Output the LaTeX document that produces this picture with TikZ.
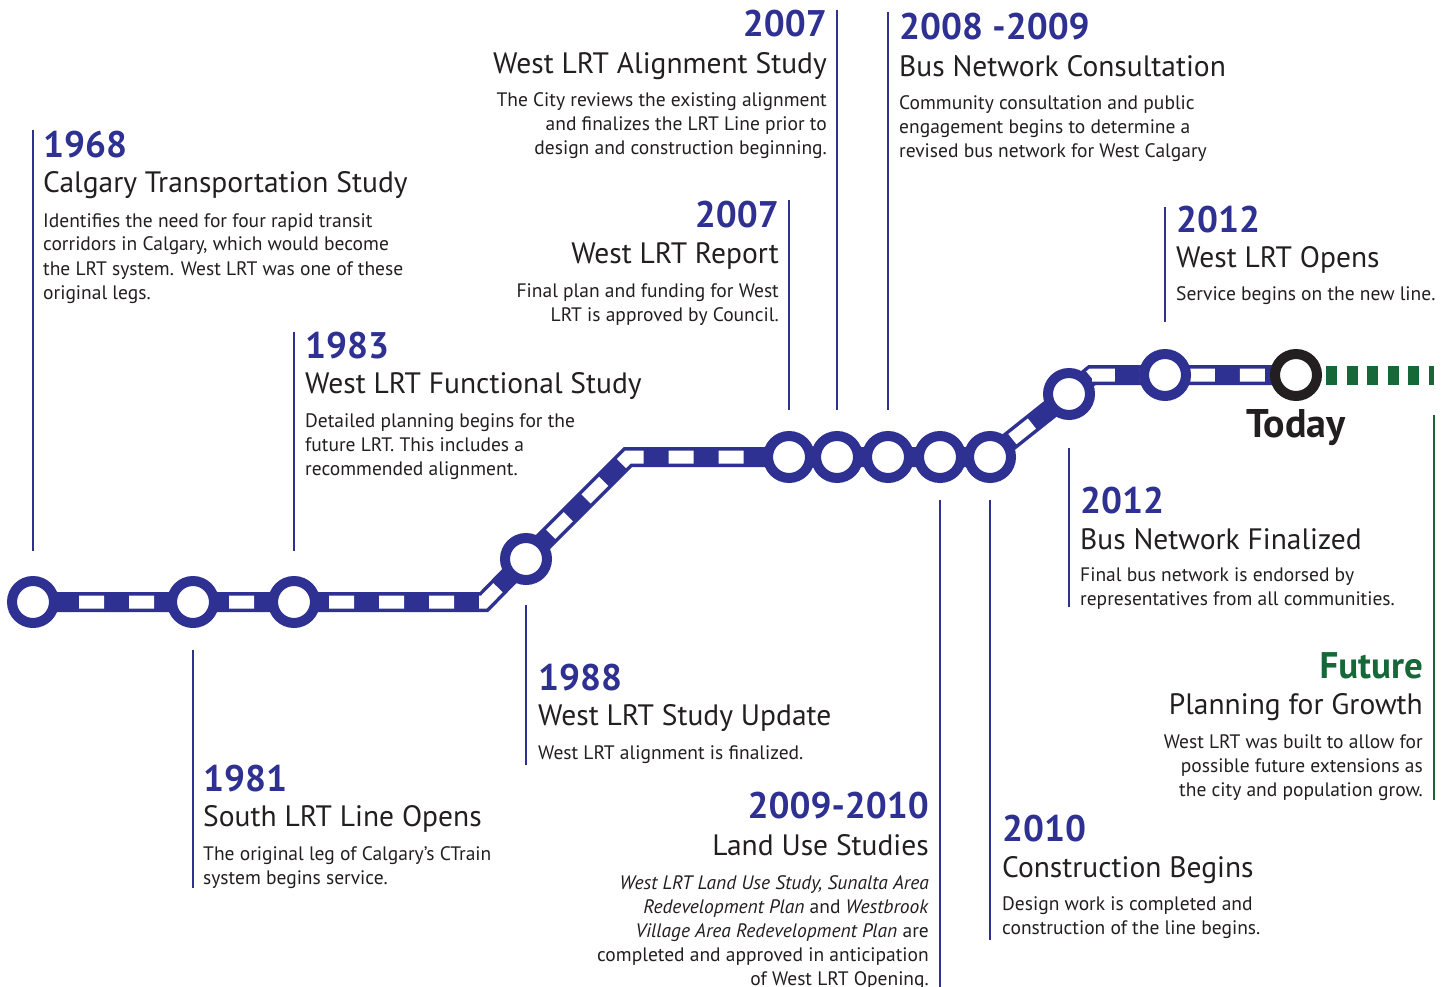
\documentclass[tikz,border=0pt]{standalone}
\usepackage{fontspec}
\setmainfont{PT Sans}
\usetikzlibrary{backgrounds}
\definecolor{lrtblue}{RGB}{46,49,146}
\definecolor{lrtgreen}{RGB}{22,104,56}
\definecolor{lrtdark}{RGB}{35,31,32}
\tikzset{
	x=1pt, y=-1pt, % one unit is one pixel of the layout, y grows downwards
	every node/.style={inner sep=0pt, text=lrtdark},
	year/.style={font=\fontsize{37}{37}\selectfont\bfseries, text=lrtblue}, % the year above each event
	heading/.style={font=\fontsize{29.5}{29.5}\selectfont}, % name of the event
	blurb/.style={font=\fontsize{19.5}{24}\selectfont}, % the short description, placed by its last line
	station/.style={circle, draw=lrtblue, line width=10pt, fill=white, minimum size=42pt},
	marker/.style={draw=lrtblue, line width=2pt}, % thin line from a text to its station
	track/.style={draw=lrtblue, line width=20pt,
		postaction={draw=white, line width=13pt, dash pattern=on 25pt off 25pt, dash phase=4pt}},
	futureline/.style={draw=lrtgreen, line width=19pt, dash pattern=on 11pt off 9.6pt},
}

\begin{document}
\begin{tikzpicture}
	\useasboundingbox (0,0) rectangle (1444,987);

	% stations
	\node[station] (s1) at (33,602) {};
	\node[station] (s2) at (193,602) {};
	\node[station] (s3) at (294,602) {};
	\node[station] (s4) at (526,559) {};
	\node[station] (s5) at (789,457) {};
	\node[station] (s6) at (837,457) {};
	\node[station] (s7) at (888,457) {};
	\node[station] (s8) at (940,457) {};
	\node[station] (s9) at (990,457) {};
	\node[station] (s10) at (1069,394) {};
	\node[station] (s11) at (1165,375) {};
	\node[station, draw=lrtdark] (today) at (1296,375) {};
	\node[font=\fontsize{40}{40}\selectfont\bfseries, anchor=base] (todaylabel) at (1296,437) {Today};

	\coordinate (bendA) at (484,602);
	\coordinate (bendB) at (628,457);
	\coordinate (bendC) at (1092,375);
	\coordinate (futureend) at (1434,375);

	\begin{scope}[on background layer]
		\fill[white] (0,0) rectangle (1444,987);
		\draw[track] (s1.center) -- (s2.center) -- (s3.center) -- (bendA) -- (s4.center) -- (bendB)
			-- (s5.center) -- (s9.center) -- (s10.center) -- (bendC) -- (s11.center) -- (today.center);
	\end{scope}
	\draw[futureline] ([xshift=4pt]today.east) -- (futureend);

	% markers
	\draw[marker] (s1 |- 0,130) -- (s1 |- 0,551);
	\draw[marker] (s2 |- 0,650) -- (s2 |- 0,888);
	\draw[marker] (s3 |- 0,332) -- (s3 |- 0,551);
	\draw[marker] (s4 |- 0,605) -- (s4 |- 0,765);
	\draw[marker] (s5 |- 0,200) -- (s5 |- 0,410);
	\draw[marker] (s6 |- 0,10) -- (s6 |- 0,410);
	\draw[marker] (s7 |- 0,12) -- (s7 |- 0,410);
	\draw[marker] (s8 |- 0,500) -- (s8 |- 0,987);
	\draw[marker] (s9 |- 0,500) -- (s9 |- 0,940);
	\draw[marker] (s10 |- 0,448) -- (s10 |- 0,607);
	\draw[marker] (s11 |- 0,207) -- (s11 |- 0,322);
	\draw[marker, draw=lrtgreen] (futureend |- 0,415) -- (futureend |- 0,800);

	% 1968
	\node[year, anchor=base west] (y1968) at (43,158) {1968};
	\node[heading, anchor=base west] (h1968) at (43,193) {Calgary Transportation Study};
	\node[blurb, anchor=base west, align=left] (b1968) at (43,299) {Identifies the need for four rapid transit\\corridors in Calgary, which would become\\the LRT system.  West LRT was one of these\\original legs.};

	% 1983
	\node[year, anchor=base west] (y1983) at (305,358) {1983};
	\node[heading, anchor=base west] (h1983) at (305,393) {West LRT Functional Study};
	\node[blurb, anchor=base west, align=left] (b1983) at (305,475) {Detailed planning begins for the\\future LRT.  This includes a\\recommended alignment.};

	% 1981
	\node[year, anchor=base west] (y1981) at (203,791) {1981};
	\node[heading, anchor=base west] (h1981) at (203,826) {South LRT Line Opens};
	\node[blurb, anchor=base west, align=left] (b1981) at (203,884) {The original leg of Calgary’s CTrain\\system begins service.};

	% 1988
	\node[year, anchor=base west] (y1988) at (538,690) {1988};
	\node[heading, anchor=base west] (h1988) at (538,725) {West LRT Study Update};
	\node[blurb, anchor=base west] (b1988) at (538,759) {West LRT alignment is finalized.};

	% 2007, alignment
	\node[year, anchor=base east] (y2007a) at (827,37) {2007};
	\node[heading, anchor=base east] (h2007a) at (827,74) {West LRT Alignment Study};
	\node[blurb, anchor=base east, align=right] (b2007a) at (827,155) {The City reviews the existing alignment\\and finalizes the LRT Line prior to\\design and construction beginning.};

	% 2008-2009
	\node[year, anchor=base west] (y2008) at (899,40) {2008 -2009};
	\node[heading, anchor=base west] (h2008) at (899,77) {Bus Network Consultation};
	\node[blurb, anchor=base west, align=left] (b2008) at (899,158) {Community consultation and public\\engagement begins to determine a\\revised bus network for West Calgary};

	% 2007, report
	\node[year, anchor=base east] (y2007r) at (779,228) {2007};
	\node[heading, anchor=base east] (h2007r) at (779,264) {West LRT Report};
	\node[blurb, anchor=base east, align=right] (b2007r) at (779,321) {Final plan and funding for West\\LRT is approved by Council.};

	% 2012, opening
	\node[year, anchor=base west] (y2012o) at (1176,233) {2012};
	\node[heading, anchor=base west] (h2012o) at (1176,268) {West LRT Opens};
	\node[blurb, anchor=base west] (b2012o) at (1176,301) {Service begins on the new line.};

	% 2012, bus network
	\node[year, anchor=base west] (y2012b) at (1080,513) {2012};
	\node[heading, anchor=base west] (h2012b) at (1080,549) {Bus Network Finalized};
	\node[blurb, anchor=base west, align=left] (b2012b) at (1080,605) {Final bus network is endorsed by\\representatives from all communities.};

	% future
	\node[year, text=lrtgreen, anchor=base east] (yfuture) at (1423,678) {Future};
	\node[heading, anchor=base east] (hfuture) at (1423,714) {Planning for Growth};
	\node[blurb, anchor=base east, align=right] (bfuture) at (1423,796) {West LRT was built to allow for\\possible future extensions as\\the city and population grow.};

	% 2009-2010
	\node[year, anchor=base east] (y2009) at (929,818) {2009-2010};
	\node[heading, anchor=base east] (h2009) at (929,855) {Land Use Studies};
	\node[blurb, anchor=base east, align=right] (b2009) at (929,985) {\textit{West LRT Land Use Study, Sunalta Area}\\\textit{Redevelopment Plan} and \textit{Westbrook}\\\textit{Village Area Redevelopment Plan} are\\completed and approved in anticipation\\of West LRT Opening.};

	% 2010
	\node[year, anchor=base west] (y2010) at (1002,841) {2010};
	\node[heading, anchor=base west] (h2010) at (1002,877) {Construction Begins};
	\node[blurb, anchor=base west, align=left] (b2010) at (1002,934) {Design work is completed and\\construction of the line begins.};
\end{tikzpicture}
\end{document}
